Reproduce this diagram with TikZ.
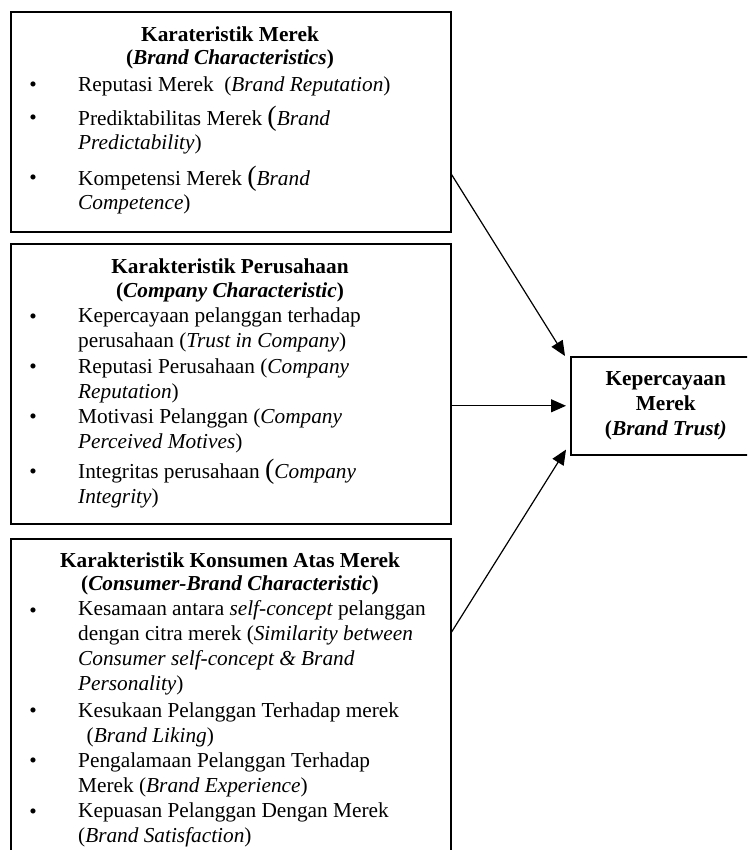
\documentclass[tikz,border=0pt]{standalone}
\usepackage{fontspec}
\setmainfont{Liberation Serif}
\usetikzlibrary{arrows.meta}
\tikzset{>=latex}
\newcommand{\ukuran}{\fontsize{21.3}{24.7}\selectfont}
\newcommand{\besar}[1]{{\fontsize{28}{24.7}\selectfont #1}}
\tikzstyle{kotak} = [draw=black, line width=1.6pt, rectangle, inner sep=0, anchor=north west]
\tikzstyle{judul} = [draw=none, inner sep=0, anchor=base, font=\ukuran\bfseries]
% butir: anchor di baseline baris terakhir
\tikzstyle{butir} = [draw=none, inner sep=0, anchor=base west, align=left, font=\ukuran]
\tikzstyle{titik} = [draw=none, inner sep=0, anchor=base, font=\ukuran]
\tikzstyle{panah} = [-{Triangle[length=15pt, width=13pt]}, line width=1.2pt]

\begin{document}
\begin{tikzpicture}[x=1pt, y=-1pt]
\useasboundingbox (0, 0) rectangle (747, 850);
\clip (0, 0) rectangle (747, 850);
% kotak
\node [kotak, minimum width=440pt, minimum height=220pt] (merek) at (10, 11) {};
\node [kotak, minimum width=440pt, minimum height=280pt] (perusahaan) at (10, 243) {};
\node [kotak, minimum width=440pt, minimum height=330pt] (konsumen) at (10, 538) {};
\node [kotak, minimum width=190pt, minimum height=98pt, align=center, font=\ukuran\bfseries] (trust) at (570, 356) {Kepercayaan\\Merek\\(\textit{Brand Trust)}};
% Karateristik Merek
\node [judul] (j1a) at (230, 42) {Karateristik Merek};
\node [judul] (j1b) at (230, 65) {(\textit{Brand Characteristics})};
\node [butir] (m1) at (78, 92) {Reputasi Merek\ \ (\textit{Brand Reputation})};
\node [butir] (m2) at (78, 150) {Prediktabilitas Merek \besar{(}\textit{Brand}\\\textit{Predictability})};
\node [butir] (m3) at (78, 210) {Kompetensi Merek \besar{(}\textit{Brand}\\\textit{Competence})};
% Karakteristik Perusahaan
\node [judul] (j2a) at (230, 273) {Karakteristik Perusahaan};
\node [judul] (j2b) at (230, 297) {(\textit{Company Characteristic})};
\node [butir] (p1) at (78, 347) {Kepercayaan pelanggan terhadap\\perusahaan (\textit{Trust in Company})};
\node [butir] (p2) at (78, 398) {Reputasi Perusahaan (\textit{Company}\\\textit{Reputation})};
\node [butir] (p3) at (78, 448) {Motivasi Pelanggan (\textit{Company}\\\textit{Perceived Motives})};
\node [butir] (p4) at (78, 503) {Integritas perusahaan \besar{(}\textit{Company}\\\textit{Integrity})};
% Karakteristik Konsumen
\node [judul] (j3a) at (230, 567) {Karakteristik Konsumen Atas Merek};
\node [judul] (j3b) at (230, 590) {(\textit{Consumer-Brand Characteristic})};
\node [butir] (k1) at (78, 690) {Kesamaan antara \textit{self-concept} pelanggan\\dengan citra merek (\textit{Similarity between}\\\textit{Consumer self-concept \& Brand}\\\textit{Personality})};
\node [butir] (k2) at (78, 742) {Kesukaan Pelanggan Terhadap merek\\\hspace*{0.4em}(\textit{Brand Liking})};
\node [butir] (k3) at (78, 792) {Pengalamaan Pelanggan Terhadap\\Merek (\textit{Brand Experience})};
\node [butir] (k4) at (78, 842) {Kepuasan Pelanggan Dengan Merek\\(\textit{Brand Satisfaction})};
\foreach \y in {92,125,185,323,373,423,478,617,717,767,818}
  \node [titik] (b\y) at (33, \y) {\textbullet};
% panah
\draw [panah] ([yshift=58pt]merek.south east) -- ([xshift=-5pt]trust.north west);
\draw [panah] (perusahaan.east |- trust.west) -- ([xshift=-4pt]trust.west);
\draw [panah] ([yshift=-94pt]konsumen.north east) -- ([xshift=-4pt, yshift=6pt]trust.south west);
\end{tikzpicture}
\end{document}
